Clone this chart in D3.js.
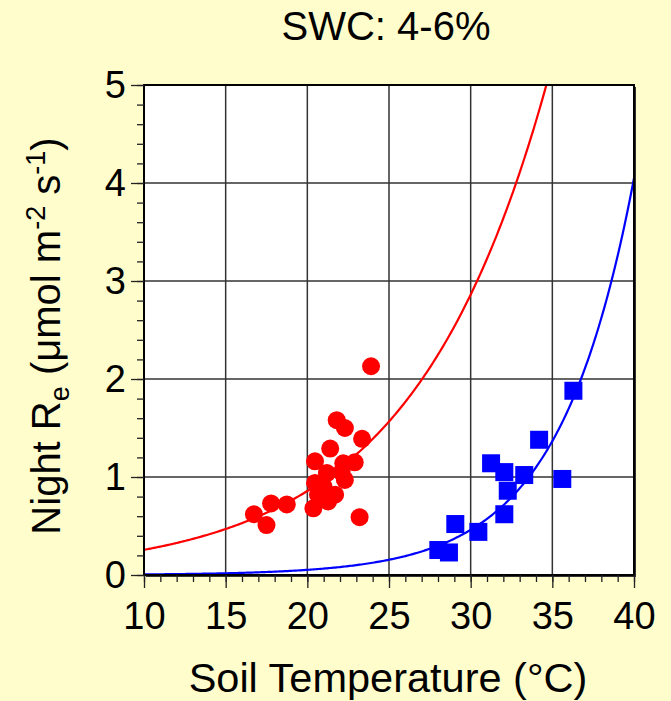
<!DOCTYPE html>
<html>
<head>
<meta charset="utf-8">
<script src="https://cdn.jsdelivr.net/npm/d3@7"></script>
<style>
  body { margin: 0; background: #FFFDCC; }
  svg { display: block; font-family: "Liberation Sans", Arial, sans-serif; }
</style>
</head>
<body>
<svg id="chart" width="671" height="701"></svg>
<script>
// data
var redTemp = [23.9, 21.8, 22.3, 23.35, 21.4, 20.47, 22.9, 22.2, 20.47, 20.65, 21.7, 22.3, 22.1, 21.2, 21.0,
  20.37, 21.27, 23.2, 18.74, 17.78, 16.73, 17.5]
var redResp = [2.13, 1.58, 1.50, 1.39, 1.29, 1.16, 1.15, 1.14, 0.94, 0.82, 0.82, 0.97, 1.05, 1.04, 0.90,
  0.68, 0.75, 0.59, 0.72, 0.73, 0.62, 0.51]

var blueTemp = [36.29, 34.19, 31.25, 32.06, 33.28, 35.61, 32.27, 32.06, 29.06, 30.47, 28.02, 28.67]
var blueResp = [1.88, 1.38, 1.14, 1.05, 1.02, 0.98, 0.86, 0.62, 0.52, 0.44, 0.255, 0.23]

// exponential fits y = a * exp(b * T)
var redFit = { a: 0.077, b: 0.1205 }
var blueFit = { a: 0.00068, b: 0.2173 }

var xTicks = [10, 15, 20, 25, 30, 35, 40]
var yTicks = [0, 1, 2, 3, 4, 5]

//
// Layout
//

var pLeft = 144, pRight = 634, pTop = 85, pBottom = 575
var svg = d3.select('#chart')

var x = d3.scaleLinear().domain([10, 40]).range([pLeft, pRight])
var y = d3.scaleLinear().domain([0, 5]).range([pBottom, pTop])

// plot box with a small shadow
svg.append('rect')
  .attr('x', pLeft + 2).attr('y', pTop + 2)
  .attr('width', pRight - pLeft).attr('height', pBottom - pTop)
  .attr('fill', '#333')
svg.append('rect')
  .attr('x', pLeft).attr('y', pTop)
  .attr('width', pRight - pLeft).attr('height', pBottom - pTop)
  .attr('fill', '#fff')

var clip = svg.append('clipPath').attr('id', 'clip')
clip.append('rect')
  .attr('x', pLeft).attr('y', pTop)
  .attr('width', pRight - pLeft).attr('height', pBottom - pTop)

// grid
var grid = svg.append('g')
grid.selectAll('.gx').data(xTicks.slice(1, -1)).enter().append('line')
  .attr('x1', function(d) { return x(d) }).attr('x2', function(d) { return x(d) })
  .attr('y1', pTop).attr('y2', pBottom)
  .attr('stroke', '#333').attr('stroke-width', 1.5)
grid.selectAll('.gy').data(yTicks.slice(1, -1)).enter().append('line')
  .attr('y1', function(d) { return y(d) }).attr('y2', function(d) { return y(d) })
  .attr('x1', pLeft).attr('x2', pRight)
  .attr('stroke', '#333').attr('stroke-width', 1.5)

// fitted curves
function curve(fit) {
  return d3.range(10, 40.01, 0.1).map(function(t) { return [t, fit.a * Math.exp(fit.b * t)] })
}
var line = d3.line()
  .x(function(d) { return x(d[0]) })
  .y(function(d) { return y(d[1]) })

var plot = svg.append('g').attr('clip-path', 'url(#clip)')
plot.append('path').datum(curve(redFit))
  .attr('d', line).attr('fill', 'none').attr('stroke', '#f00').attr('stroke-width', 2.2)
plot.append('path').datum(curve(blueFit))
  .attr('d', line).attr('fill', 'none').attr('stroke', '#00f').attr('stroke-width', 2.2)

// points
svg.append('g').selectAll('circle').data(redTemp).enter().append('circle')
  .attr('cx', function(d) { return x(d) })
  .attr('cy', function(d, i) { return y(redResp[i]) })
  .attr('r', 9)
  .attr('fill', '#f00')

svg.append('g').selectAll('rect').data(blueTemp).enter().append('rect')
  .attr('x', function(d) { return x(d) - 9 })
  .attr('y', function(d, i) { return y(blueResp[i]) - 9 })
  .attr('width', 18).attr('height', 18)
  .attr('fill', '#00f')

// frame
svg.append('rect')
  .attr('x', pLeft).attr('y', pTop)
  .attr('width', pRight - pLeft).attr('height', pBottom - pTop)
  .attr('fill', 'none').attr('stroke', '#000').attr('stroke-width', 2)

// axes
svg.append('g').attr('transform', 'translate(0,' + pBottom + ')')
  .call(d3.axisBottom(x).tickValues(d3.range(10, 41, 1)).tickSize(7).tickFormat(''))
svg.append('g').attr('transform', 'translate(0,' + pBottom + ')')
  .call(d3.axisBottom(x).tickValues(xTicks).tickSize(13).tickPadding(14))
svg.append('g').attr('transform', 'translate(' + pLeft + ',0)')
  .call(d3.axisLeft(y).tickValues(d3.range(0, 5.01, 0.2)).tickSize(7).tickFormat(''))
svg.append('g').attr('transform', 'translate(' + pLeft + ',0)')
  .call(d3.axisLeft(y).tickValues(yTicks).tickSize(13).tickPadding(5).tickFormat(d3.format('d')))

svg.selectAll('.domain').remove()
svg.selectAll('.tick line').attr('stroke', '#222').attr('stroke-width', 1.3)
svg.selectAll('.tick text')
  .attr('font-size', 38).attr('fill', '#000')
  .attr('font-family', '"Liberation Sans", Arial, sans-serif')

// titles
svg.append('text')
  .attr('x', 386).attr('y', 40)
  .attr('text-anchor', 'middle').attr('font-size', 40)
  .text('SWC: 4-6%')

svg.append('text')
  .attr('x', 388).attr('y', 692)
  .attr('text-anchor', 'middle').attr('font-size', 41.5)
  .text('Soil Temperature (°C)')

var ylab = svg.append('text')
  .attr('transform', 'translate(60,336) rotate(-90)')
  .attr('text-anchor', 'middle').attr('font-size', 40)
ylab.append('tspan').text('Night R')
ylab.append('tspan').attr('font-size', 27).attr('dy', 9).text('e')
ylab.append('tspan').attr('dy', -9).text(' (μmol m')
ylab.append('tspan').attr('font-size', 27).attr('dy', -15).text('-2')
ylab.append('tspan').attr('dy', 15).text(' s')
ylab.append('tspan').attr('font-size', 27).attr('dy', -15).text('-1')
ylab.append('tspan').attr('dy', 15).text(')')
</script>
</body>
</html>
